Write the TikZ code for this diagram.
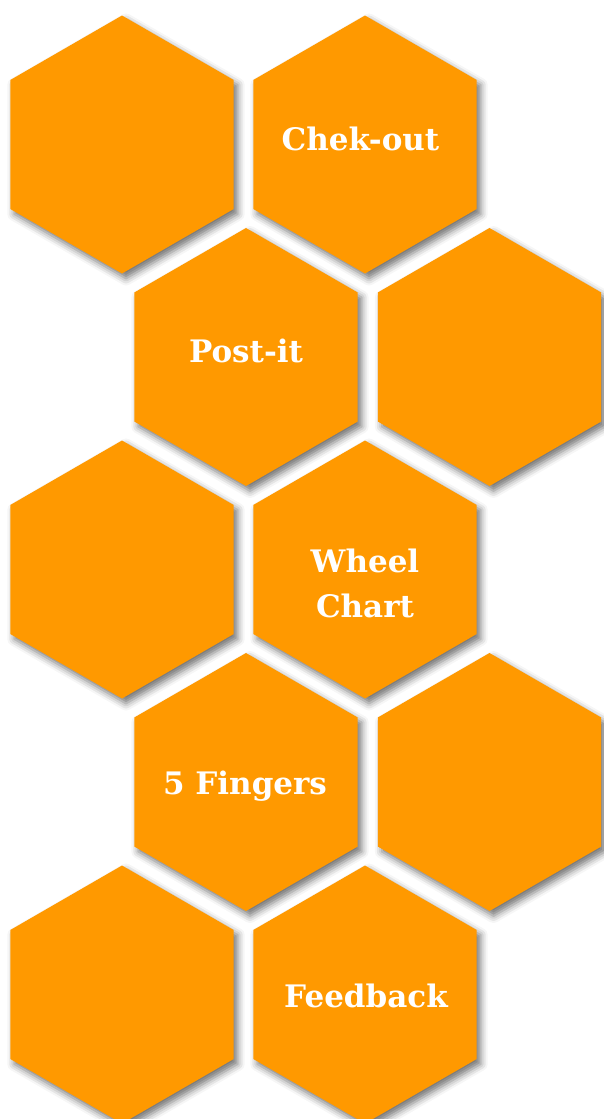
\documentclass[tikz,border=0pt]{standalone}
\usepackage{fontspec}
\setmainfont{DejaVu Serif}
\usepackage{xcolor}
\usetikzlibrary{shapes.geometric,shadows.blur,positioning}
\definecolor{hexorange}{RGB}{255,153,0}

\begin{document}
\begin{tikzpicture}[x=1pt, y=-1pt,
      hex/.style={regular polygon, regular polygon sides=6,
                  shape border rotate=30, minimum size=258pt,
                  inner sep=0pt, fill=hexorange,
                  blur shadow={shadow xshift=4pt, shadow yshift=-5pt,
                               shadow blur radius=7pt, shadow opacity=55}},
      lbl/.style={text=white, inner sep=0pt, align=center,
                  font=\fontsize{31}{45}\selectfont\bfseries}
  ]
    \useasboundingbox (0,0) rectangle (604,1119);
    % honeycomb, two cells per row
    \node[hex] (h1)  at (122,144.5) {};
    \node[hex] (h2)  at (365,144.5) {};
    \node[hex] (h3)  at (246,357) {};
    \node[hex] (h4)  at (489.5,357) {};
    \node[hex] (h5)  at (122,569.5) {};
    \node[hex] (h6)  at (365,569.5) {};
    \node[hex] (h7)  at (246,782) {};
    \node[hex] (h8)  at (489.5,782) {};
    \node[hex] (h9)  at (122,994.5) {};
    \node[hex] (h10) at (365,994.5) {};
    % labels
    \node[lbl, anchor=base] (checkout) at (360.5,150) {Chek-out};
    \node[lbl, anchor=base] (postit)   at (246,362) {Post-it};
    \node[lbl]              (wheel)    at (365,583) {Wheel\\ Chart};
    \node[lbl, anchor=base] (fingers)  at (245,794) {5 Fingers};
    \node[lbl, anchor=base] (feedback) at (366,1007) {Feedback};
  \end{tikzpicture}
\end{document}
